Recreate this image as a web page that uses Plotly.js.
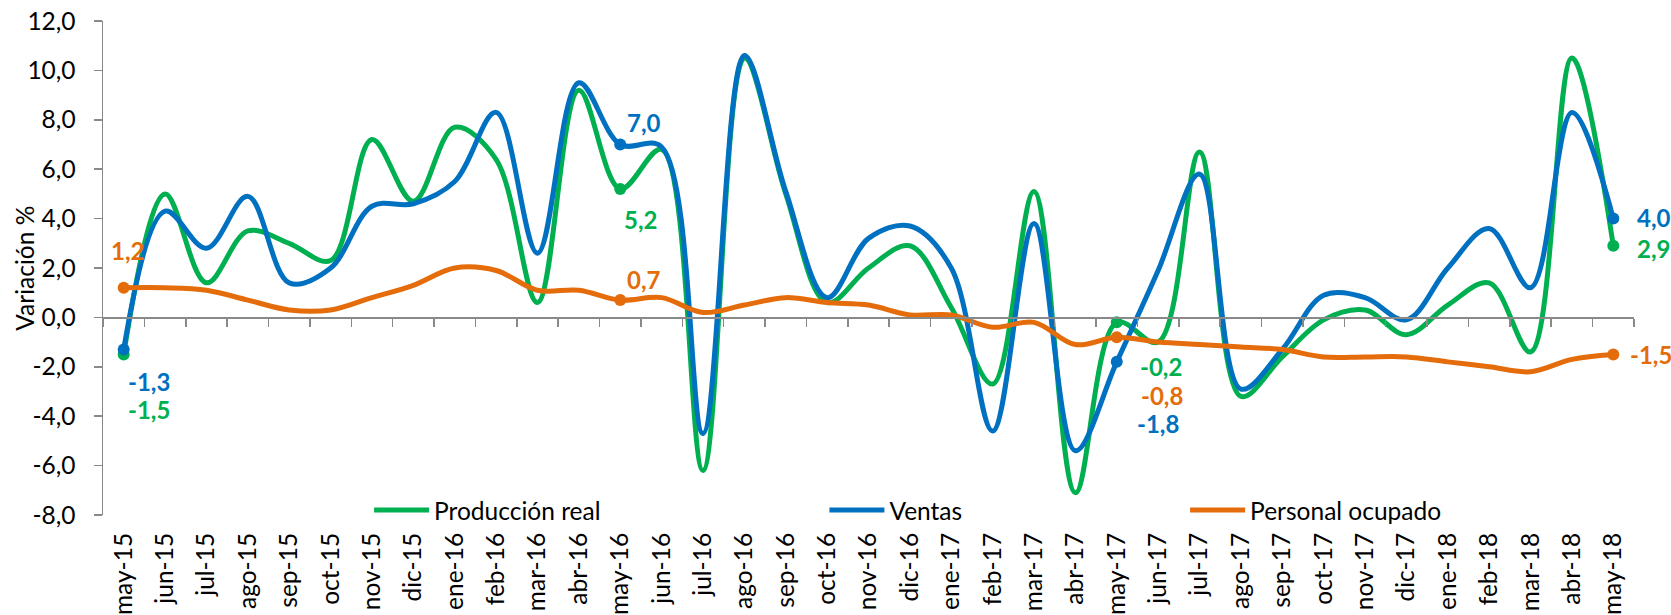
<!DOCTYPE html>
<html>
<head>
<meta charset="utf-8">
<script src="https://cdn.plot.ly/plotly-3.0.1.min.js"></script>
<style>html,body{margin:0;padding:0;background:#fff;}#chart{width:1671px;height:615px;}</style>
</head>
<body>
<div id="chart"></div>
<script>
const categories = ['may-15','jun-15','jul-15','ago-15','sep-15','oct-15','nov-15','dic-15','ene-16','feb-16','mar-16','abr-16',
  'may-16','jun-16','jul-16','ago-16','sep-16','oct-16','nov-16','dic-16','ene-17','feb-17','mar-17','abr-17',
  'may-17','jun-17','jul-17','ago-17','sep-17','oct-17','nov-17','dic-17','ene-18','feb-18','mar-18','abr-18','may-18'];

const produccionReal = [-1.5, 5.0, 1.4, 3.5, 3.0, 2.3, 7.2, 4.7, 7.7, 6.4, 0.6, 9.2,
  5.2, 6.8, -6.2, 10.5, 5.0, 0.6, 2.0, 2.9, 0.4, -2.7, 5.1, -7.1,
  -0.2, -1.0, 6.7, -3.2, -1.6, -0.1, 0.3, -0.7, 0.5, 1.4, -1.4, 10.5, 2.9];

const ventas = [-1.3, 4.3, 2.8, 4.9, 1.4, 2.0, 4.5, 4.6, 5.5, 8.3, 2.6, 9.5,
  7.0, 6.9, -4.7, 10.6, 5.1, 0.8, 3.2, 3.7, 2.0, -4.6, 3.8, -5.4,
  -1.8, 1.9, 5.8, -2.9, -1.3, 0.9, 0.8, -0.1, 2.0, 3.6, 1.2, 8.3, 4.0];

const personalOcupado = [1.2, 1.2, 1.1, 0.7, 0.3, 0.3, 0.8, 1.3, 2.0, 1.9, 1.1, 1.1,
  0.7, 0.8, 0.2, 0.5, 0.8, 0.6, 0.5, 0.1, 0.1, -0.4, -0.2, -1.1,
  -0.8, -1.0, -1.1, -1.2, -1.3, -1.6, -1.6, -1.6, -1.8, -2.0, -2.2, -1.7, -1.5];

const seriesNames = ['Producción real', 'Ventas', 'Personal ocupado'];
const yAxisTitle = 'Variación %';
const labelIdx = [0, 12, 24, 36];
const yTickVals = [-8, -6, -4, -2, 0, 2, 4, 6, 8, 10, 12];
const yTickLabels = ['-8,0', '-6,0', '-4,0', '-2,0', '0,0', '2,0', '4,0', '6,0', '8,0', '10,0', '12,0'];

// styling (not data)
const COLORS = ['#00B050', '#0070C0', '#E46C0A'];
const AXIS = '#898989';
const FONT = 'Lato, "Open Sans", sans-serif';
const FS = 24.5;
const labelOffsets = [
  [[25, -55, 'center'], [20, -31, 'center'], [44, -44, 'center'], [22, -3, 'left']],
  [[25, -32, 'center'], [24, 22, 'center'], [41, -62, 'center'], [22, 1, 'left']],
  [[4, 37, 'center'], [24, 21, 'center'], [45, -58, 'center'], [15, 0, 'left']]
];
const legendX = [0.1738, 0.4712, 0.7068];

const allSeries = [produccionReal, ventas, personalOcupado];
const fmt = v => v.toFixed(1).replace('.', ',');

const traces = [];
allSeries.forEach((vals, s) => {
  traces.push({
    type: 'scatter', mode: 'lines', name: seriesNames[s],
    x: categories, y: vals,
    line: {color: COLORS[s], width: 5, shape: 'spline', smoothing: 1},
    legend: s === 0 ? 'legend' : 'legend' + (s + 1),
    cliponaxis: false
  });
  traces.push({
    type: 'scatter', mode: 'markers', showlegend: false,
    x: labelIdx.map(i => categories[i]), y: labelIdx.map(i => vals[i]),
    marker: {color: COLORS[s], size: 12},
    cliponaxis: false
  });
});

// helper trace for the zero-line axis with tick marks
traces.push({
  type: 'scatter', mode: 'lines', x: categories, y: categories.map(() => null),
  xaxis: 'x2', yaxis: 'y', showlegend: false, hoverinfo: 'skip'
});

const annotations = [];
allSeries.forEach((vals, s) => {
  labelIdx.forEach((idx, k) => {
    const off = labelOffsets[s][k];
    annotations.push({
      x: categories[idx], y: vals[idx], xref: 'x', yref: 'y',
      text: fmt(vals[idx]), showarrow: false,
      xanchor: off[2], yanchor: 'middle',
      xshift: off[0], yshift: off[1],
      font: {family: FONT, size: 24, color: COLORS[s], weight: 'bold'}
    });
  });
});
// y-axis title, placed close to the tick labels as in the reference
annotations.push({
  xref: 'paper', yref: 'paper', x: -0.0518, y: 0.5,
  xanchor: 'center', yanchor: 'middle', textangle: -90,
  text: yAxisTitle, showarrow: false,
  font: {family: FONT, size: FS, color: '#000'}
});

const legendBase = {
  orientation: 'h', yanchor: 'middle', y: 0.01, xanchor: 'left',
  bgcolor: 'rgba(0,0,0,0)', font: {family: FONT, size: FS, color: '#000'},
  itemwidth: 55
};

const layout = {
  width: 1671, height: 615,
  margin: {l: 103, r: 37, t: 21, b: 100, pad: 0},
  paper_bgcolor: '#fff', plot_bgcolor: '#fff',
  font: {family: FONT, size: FS, color: '#000'},
  showlegend: true,
  legend: Object.assign({}, legendBase, {x: legendX[0]}),
  legend2: Object.assign({}, legendBase, {x: legendX[1]}),
  legend3: Object.assign({}, legendBase, {x: legendX[2]}),
  xaxis: {
    type: 'category', categoryorder: 'array', categoryarray: categories,
    range: [-0.5, 36.5], showline: false, ticks: '', tickangle: -90,
    ticklabelstandoff: 12,
    showgrid: false, zeroline: false, automargin: false,
    tickfont: {family: FONT, size: FS, color: '#000'}
  },
  xaxis2: {
    type: 'category', categoryorder: 'array', categoryarray: categories,
    overlaying: 'x', anchor: 'free', position: 0.4, side: 'bottom',
    range: [-0.5, 36.5], showline: true, linecolor: AXIS, linewidth: 1.5,
    ticks: 'outside', ticklen: 8, tickwidth: 1.5, tickcolor: AXIS, tickson: 'boundaries',
    showticklabels: false, showgrid: false, zeroline: false
  },
  yaxis: {
    range: [-8, 12], tickmode: 'array', tickvals: yTickVals, ticktext: yTickLabels,
    showline: true, linecolor: AXIS, linewidth: 1.5,
    ticks: 'outside', ticklen: 8, tickwidth: 1.5, tickcolor: AXIS,
    ticklabelstandoff: 13,
    showgrid: false, zeroline: false, automargin: false,
    tickfont: {family: FONT, size: FS, color: '#000'}
  },
  annotations: annotations
};

Plotly.newPlot('chart', traces, layout, {displayModeBar: false, staticPlot: true});
</script>
</body>
</html>
